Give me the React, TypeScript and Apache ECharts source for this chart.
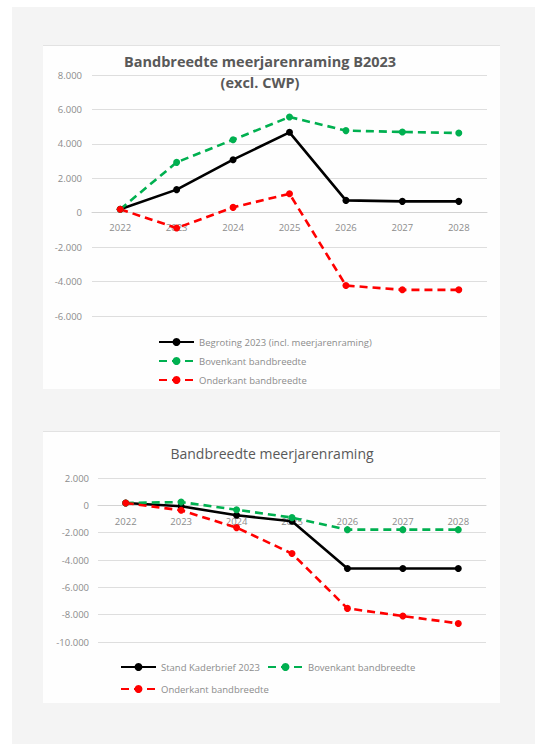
import React, { useEffect, useRef } from "react";
import * as echarts from "echarts";

// ---- data ----
const years = ["2022", "2023", "2024", "2025", "2026", "2027", "2028"];

const chart1Title = "Bandbreedte meerjarenraming B2023\n(excl. CWP)";
const chart1Names = [
  "Begroting 2023 (incl. meerjarenraming)",
  "Bovenkant bandbreedte",
  "Onderkant bandbreedte",
];
const chart1YRange = [-6000, 8000];
const begroting2023 = [200, 1340, 3080, 4670, 715, 660, 660];
const bovenkant1 = [200, 2925, 4240, 5560, 4770, 4690, 4630];
const onderkant1 = [200, -890, 310, 1100, -4230, -4480, -4480];

const chart2Title = "Bandbreedte meerjarenraming";
const chart2Names = [
  "Stand Kaderbrief 2023",
  "Bovenkant bandbreedte",
  "Onderkant bandbreedte",
];
const chart2YRange = [-10000, 2000];
const kaderbrief2023 = [170, -70, -730, -1170, -4620, -4620, -4620];
const bovenkant2 = [170, 240, -320, -900, -1780, -1780, -1780];
const onderkant2 = [170, -365, -1630, -3530, -7540, -8100, -8640];

const FONT = "Open Sans";
const BLACK = "#000000";
const GREEN = "#00b050";
const RED = "#ff0000";

const GRID1 = { left: 92, top: 75, width: 395, height: 241 };
const GRID2 = { left: 98, top: 478, width: 388, height: 164 };

function fmt(v: number): string {
  const s = Math.abs(v)
    .toString()
    .replace(/\B(?=(\d{3})+(?!\d))/g, ".");
  return (v < 0 ? "-" : "") + s;
}

function lineSeries(
  name: string,
  data: number[],
  color: string,
  dashed: boolean,
  idx: number
) {
  return {
    type: "line",
    name,
    data,
    xAxisIndex: idx,
    yAxisIndex: idx,
    symbol: "circle",
    symbolSize: 7,
    itemStyle: { color },
    lineStyle: { color, width: 2.6, type: dashed ? [8, 5] : "solid" },
    z: 3,
  };
}

function makeYAxis(idx: number, range: number[], margin: number) {
  return {
    type: "value",
    gridIndex: idx,
    min: range[0],
    max: range[1],
    interval: 2000,
    axisLine: { show: false },
    axisTick: { show: false },
    axisLabel: {
      formatter: (v: number) => fmt(v),
      color: "#8c8c8c",
      fontSize: 9.5,
      fontFamily: FONT,
      margin,
    },
    splitLine: { lineStyle: { color: "#dedede", width: 1 } },
  };
}

// category axis drawn through the zero of the value axis
function makeXAxis(
  idx: number,
  range: number[],
  gridHeight: number,
  margin: number
) {
  const zeroFromBottom = (gridHeight * (0 - range[0])) / (range[1] - range[0]);
  return {
    type: "category",
    gridIndex: idx,
    data: years,
    boundaryGap: true,
    position: "bottom",
    offset: -zeroFromBottom,
    axisLine: {
      show: true,
      onZero: false,
      lineStyle: { color: "#d3d3d3", width: 1 },
    },
    axisTick: { show: false },
    axisLabel: {
      color: "#8c8c8c",
      fontSize: 9.5,
      fontFamily: FONT,
      margin,
    },
    z: 1,
  };
}

const legendText = { color: "#8c8c8c", fontSize: 9.5, fontFamily: FONT };

export default function App() {
  const ref = useRef<HTMLDivElement>(null);

  useEffect(() => {
    if (!ref.current) return;
    const chart = echarts.init(ref.current, null, { renderer: "svg" });
    const option: any = {
      animation: false,
      backgroundColor: "#ffffff",
      graphic: [
        {
          type: "rect",
          z: -10,
          shape: { x: 12, y: 7, width: 523, height: 737 },
          style: { fill: "#f4f4f4" },
        },
        {
          type: "rect",
          z: -9,
          shape: { x: 43, y: 45, width: 457, height: 344 },
          style: { fill: "#fefefe" },
        },
        {
          type: "line",
          z: -8,
          shape: { x1: 43, y1: 45.5, x2: 500, y2: 45.5 },
          style: { stroke: "#e2e2e2", lineWidth: 1 },
        },
        {
          type: "rect",
          z: -9,
          shape: { x: 43, y: 431, width: 457, height: 272 },
          style: { fill: "#fefefe" },
        },
        {
          type: "line",
          z: -8,
          shape: { x1: 43, y1: 431.5, x2: 500, y2: 431.5 },
          style: { stroke: "#e2e2e2", lineWidth: 1 },
        },
      ],
      title: [
        {
          text: chart1Title,
          left: 260,
          top: 51,
          textAlign: "center",
          padding: 0,
          textStyle: {
            color: "#595959",
            fontSize: 14.5,
            fontWeight: "bold",
            fontFamily: FONT,
            lineHeight: 21,
          },
        },
        {
          text: chart2Title,
          left: 272,
          top: 443,
          textAlign: "center",
          padding: 0,
          textStyle: {
            color: "#595959",
            fontSize: 14,
            fontWeight: "normal",
            fontFamily: FONT,
            lineHeight: 20,
          },
        },
      ],
      legend: [
        {
          orient: "vertical",
          left: 158,
          top: 337,
          padding: 0,
          itemWidth: 35,
          itemHeight: 10,
          itemGap: 9,
          data: chart1Names,
          textStyle: legendText,
        },
        {
          left: 120,
          top: 662,
          padding: 0,
          itemWidth: 35,
          itemHeight: 10,
          data: [chart2Names[0]],
          textStyle: legendText,
        },
        {
          left: 267,
          top: 662,
          padding: 0,
          itemWidth: 35,
          itemHeight: 10,
          data: [chart2Names[1]],
          textStyle: legendText,
        },
        {
          left: 120,
          top: 684,
          padding: 0,
          itemWidth: 35,
          itemHeight: 10,
          data: [chart2Names[2]],
          textStyle: legendText,
        },
      ],
      grid: [GRID1, GRID2],
      xAxis: [
        makeXAxis(0, chart1YRange, GRID1.height, 10),
        makeXAxis(1, chart2YRange, GRID2.height, 11),
      ],
      yAxis: [makeYAxis(0, chart1YRange, 10), makeYAxis(1, chart2YRange, 9)],
      series: [
        lineSeries(chart1Names[0], begroting2023, BLACK, false, 0),
        lineSeries(chart1Names[1], bovenkant1, GREEN, true, 0),
        lineSeries(chart1Names[2], onderkant1, RED, true, 0),
        lineSeries(chart2Names[0], kaderbrief2023, BLACK, false, 1),
        lineSeries(chart2Names[1], bovenkant2, GREEN, true, 1),
        lineSeries(chart2Names[2], onderkant2, RED, true, 1),
      ],
    };
    chart.setOption(option);
    return () => chart.dispose();
  }, []);

  return (
    <div
      ref={ref}
      style={{ position: "fixed", left: 0, top: 0, width: 535, height: 744 }}
    />
  );
}
